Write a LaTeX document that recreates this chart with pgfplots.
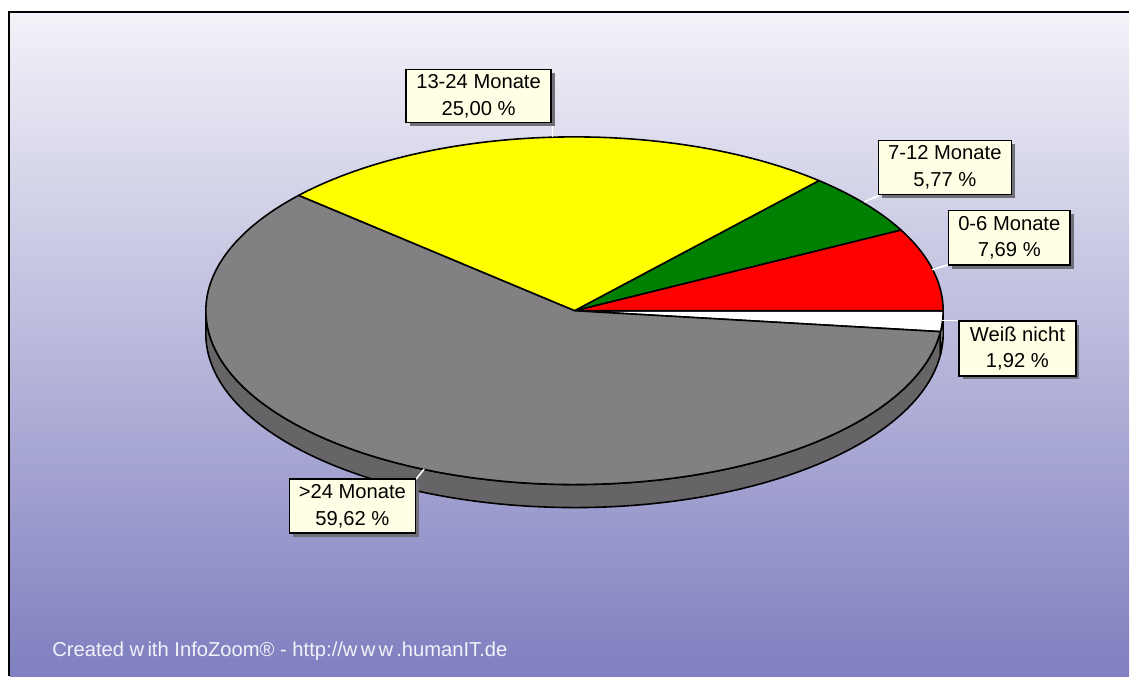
\documentclass[border=0pt]{standalone}
\usepackage{fontspec}
\setmainfont{Liberation Sans}
\usepackage{pgfplots}
\pgfplotsset{compat=1.18}
\usetikzlibrary{shadows}
\definecolor{bgtop}{RGB}{242,242,248}
\definecolor{bgbot}{RGB}{128,127,192}
\definecolor{piegray}{RGB}{130,128,130}
\definecolor{sidegray}{RGB}{102,100,102}
\definecolor{sidewhite}{RGB}{200,200,200}
\definecolor{pieyellow}{RGB}{255,255,0}
\definecolor{piegreen}{RGB}{0,128,0}
\definecolor{piered}{RGB}{255,0,0}
\definecolor{cream}{RGB}{255,255,230}
\definecolor{shadowgray}{RGB}{112,112,120}
\definecolor{footwhite}{RGB}{242,242,250}
\tikzset{
  lbl/.style={draw=black, line width=0.8pt, fill=cream, align=center,
    inner sep=0pt, font=\fontsize{10.1}{13.4}\selectfont,
    drop shadow={shadow xshift=1.8pt, shadow yshift=-1.8pt, fill=shadowgray, opacity=1}},
  conn/.style={white, line width=0.8pt}
}
\begin{document}
\begin{tikzpicture}
\begin{axis}[
  scale only axis, width=565pt, height=338.5pt,
  xmin=0, xmax=1130, ymin=0, ymax=677, y dir=reverse,
  hide axis, clip=false]
% background
\fill[white] (axis cs:0,0) rectangle (axis cs:1130,677);
\fill[top color=bgtop, bottom color=bgbot] (axis cs:10,13) rectangle (axis cs:1130,677);
\draw[black, line width=1pt] (axis cs:9,677) -- (axis cs:9,12) -- (axis cs:1130,12);
% side of the pie (percentages: Weiss nicht 1.92, 0-6 7.69, 7-12 5.77, 13-24 25.00, >24 59.62)
\addplot[fill=sidegray, draw=black, line width=0.8pt, line join=round, no markers,
  domain=180:(100-1.92)*3.6, samples=120]
  ({575+369*cos(x)},{311-174*sin(x)}) -- ++(0pt,-11.5pt)
  arc[start angle=353.088, end angle=180, x radius=184.5pt, y radius=87pt] -- cycle;
\addplot[fill=sidewhite, draw=black, line width=0.8pt, line join=round, no markers,
  domain=(100-1.92)*3.6:360, samples=10]
  ({575+369*cos(x)},{311-174*sin(x)}) -- ++(0pt,-11.5pt)
  arc[start angle=360, end angle=353.088, x radius=184.5pt, y radius=87pt] -- cycle;
% top face
\addplot[fill=white, draw=black, line width=0.8pt, line join=round, no markers,
  domain=-1.92*3.6:0, samples=10]
  ({575+369*cos(x)},{311-174*sin(x)}) -- (axis cs:575,311) -- cycle;
\addplot[fill=piered, draw=black, line width=0.8pt, line join=round, no markers,
  domain=0:7.69*3.6, samples=30]
  ({575+369*cos(x)},{311-174*sin(x)}) -- (axis cs:575,311) -- cycle;
\addplot[fill=piegreen, draw=black, line width=0.8pt, line join=round, no markers,
  domain=7.69*3.6:(7.69+5.77)*3.6, samples=30]
  ({575+369*cos(x)},{311-174*sin(x)}) -- (axis cs:575,311) -- cycle;
\addplot[fill=pieyellow, draw=black, line width=0.8pt, line join=round, no markers,
  domain=(7.69+5.77)*3.6:(7.69+5.77+25.00)*3.6, samples=80]
  ({575+369*cos(x)},{311-174*sin(x)}) -- (axis cs:575,311) -- cycle;
\addplot[fill=piegray, draw=black, line width=0.8pt, line join=round, no markers,
  domain=(7.69+5.77+25.00)*3.6:(7.69+5.77+25.00+59.62)*3.6, samples=150]
  ({575+369*cos(x)},{311-174*sin(x)}) -- (axis cs:575,311) -- cycle;
% connectors
\draw[conn] (axis cs:553,123) -- (axis cs:553,137);
\draw[conn] (axis cs:865,202) -- (axis cs:880,195.5);
\draw[conn] (axis cs:933,270) -- (axis cs:949,265);
\draw[conn] (axis cs:943,320.7) -- (axis cs:960,320.7);
\draw[conn] (axis cs:416.5,479.5) -- (axis cs:424.5,469.5);
% labels
\node[lbl, minimum width=72.5pt, minimum height=26.5pt] at (axis cs:479,96) {13-24 Monate\\25,00 \%};
\node[lbl, minimum width=66.5pt, minimum height=27pt] at (axis cs:945.7,167.5) {7-12 Monate\\5,77 \%};
\node[lbl, minimum width=61pt, minimum height=27.5pt] at (axis cs:1010.2,238) {0-6 Monate\\7,69 \%};
\node[lbl, minimum width=58.5pt, minimum height=27.5pt] at (axis cs:1018.3,348.7) {Weiß nicht\\1,92 \%};
\node[lbl, minimum width=63pt, minimum height=27pt] at (axis cs:352.7,506.7) {>24 Monate\\59,62 \%};
% footer
\node[anchor=base west, inner sep=0pt, text=footwhite, font=\fontsize{10.1}{11}\selectfont]
  at (axis cs:52,657) {Created w\kern1.6pt ith InfoZoom® - http://w\kern1.6pt w\kern1.6pt w\kern1.6pt .humanIT.de};
\end{axis}
\end{tikzpicture}
\end{document}
